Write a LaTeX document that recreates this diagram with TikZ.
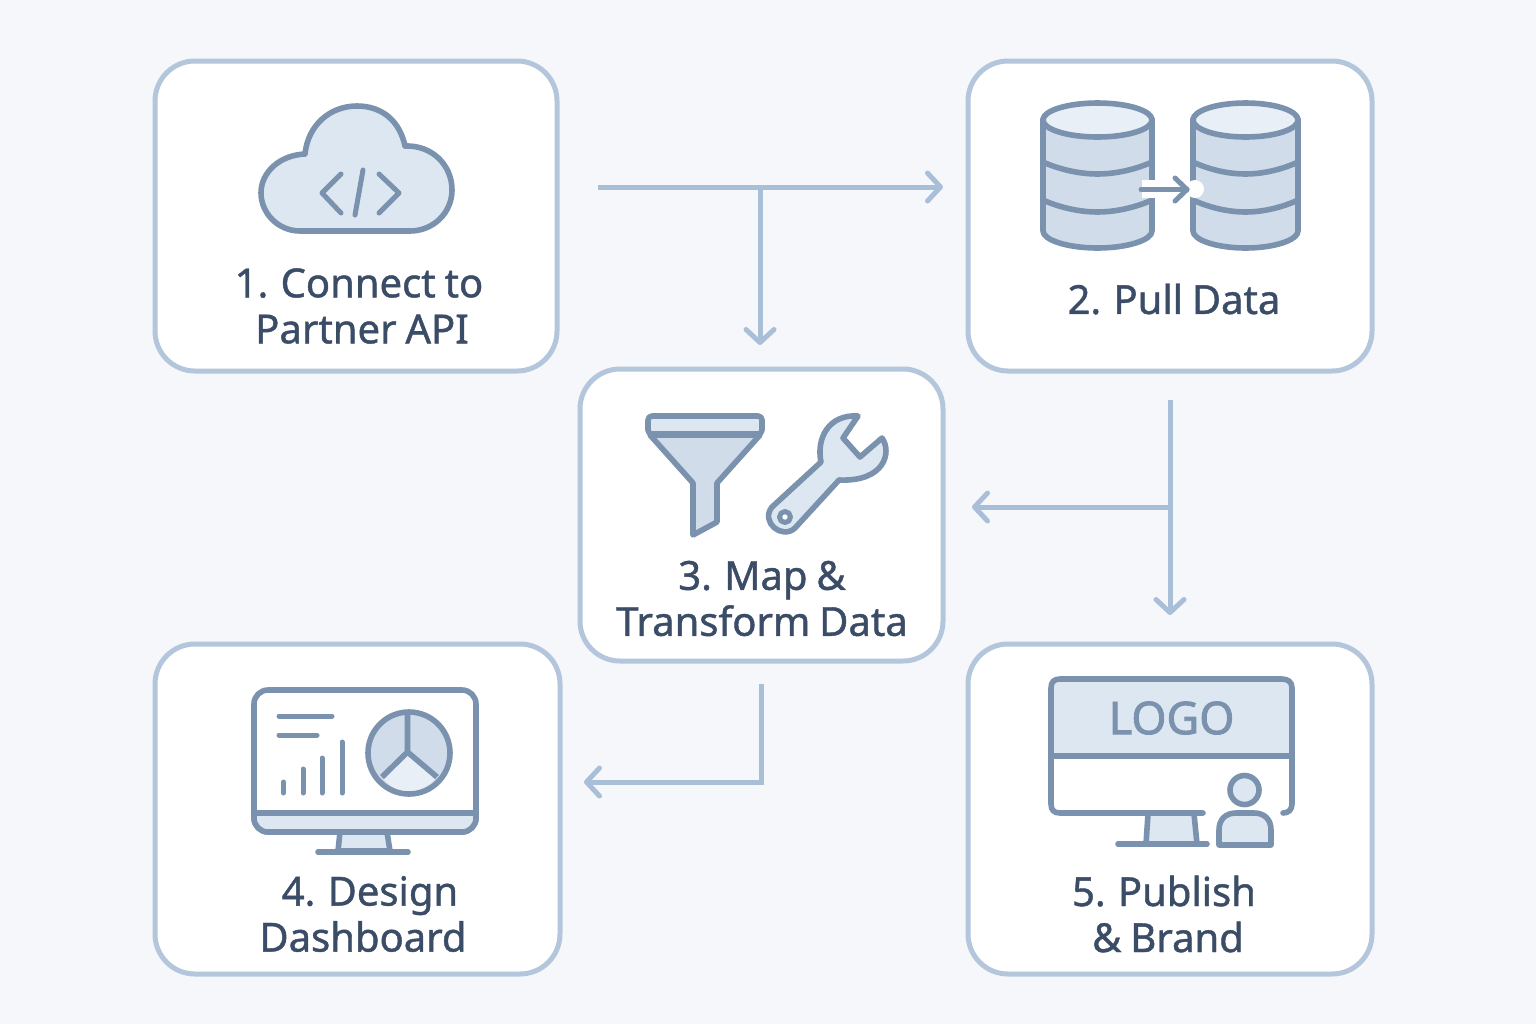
\documentclass[tikz,border=0pt]{standalone}
\usepackage{fontspec}
\setmainfont{Noto Sans}[FakeBold=1.1,WordSpace=0.85]
\newfontfamily\logofont{Noto Sans}[FakeBold=2]
\usetikzlibrary{arrows.meta}
\definecolor{bgc}{HTML}{F5F7FB}
\definecolor{edgec}{HTML}{B3C6DB}
\definecolor{linkc}{HTML}{A9BFD8}
\definecolor{inkc}{HTML}{7A92AE}
\definecolor{txtc}{HTML}{3B4C66}
\definecolor{fillc}{HTML}{DDE7F1}
\definecolor{fillb}{HTML}{D0DCE9}
\definecolor{filla}{HTML}{E8EFF6}
\tikzset{
  x=0.5pt,y=-0.5pt,
  card/.style={draw=edgec,line width=2.5pt,fill=white,rounded corners=20pt,inner sep=0pt},
  lbl/.style={text=txtc,font=\fontsize{20}{23}\selectfont,align=center,inner sep=0pt},
  ico/.style={draw=inkc,line width=2.8pt,line join=round,line cap=round},
  icothin/.style={draw=inkc,line width=2.5pt,line join=round,line cap=round},
  link/.style={draw=linkc,line width=2.5pt},
  tip/.style={-{Straight Barb[round,length=6.5pt,width=14pt,line width=2.5pt]}},
}
\begin{document}
\begin{tikzpicture}
\useasboundingbox[fill=bgc] (0,0) rectangle (1536,1024);
% cards
\node[card,minimum width=201pt,minimum height=155pt] (c1) at (356,216) {};
\node[card,minimum width=202pt,minimum height=155pt] (c2) at (1170,216) {};
\node[card,minimum width=181.5pt,minimum height=146pt] (c3) at (761.5,515) {};
\node[card,minimum width=202.5pt,minimum height=165pt] (c4) at (357.5,809) {};
\node[card,minimum width=202pt,minimum height=165pt] (c5) at (1170,809) {};
% labels
\node[lbl] (t1) at (359,306) {1. Connect to\\\hspace*{3pt}Partner API};
\node[lbl] (t2) at (1174,299) {2. Pull Data};
\node[lbl] (t3) at (762,598.5) {3. Map \&\\Transform Data};
\node[lbl] (t4) at (363,914) {\hspace*{7pt}4. Design\\Dashboard};
\node[lbl] (t5) at (1164,914) {5. Publish\\\hspace*{4pt}\& Brand};
% connectors
\coordinate (a0) at (598,187);
\coordinate (a1) at (943,187);
\coordinate (aj) at (760,187);
\coordinate (a2) at (760,345);
\draw[link,tip] (a0) -- (a1);
\draw[link,tip] (aj) -- (a2);
\coordinate (b0) at (1170,400);
\coordinate (b1) at (1170,615);
\coordinate (bj) at (1170,507);
\coordinate (b2) at (972,507);
\draw[link,tip] (b0) -- (b1);
\draw[link,tip] (bj) -- (b2);
\coordinate (d0) at (761,684);
\coordinate (dj) at (761,782);
\coordinate (d1) at (584,782);
\draw[link,tip] (d0) -- (dj) -- (d1);
% icon 1: cloud
\draw[ico,fill=fillc] (305,154) .. controls (308,125) and (330,106) .. (357,106)
  .. controls (383,106) and (400,122) .. (405,146)
  .. controls (432,145) and (452,165) .. (452,190)
  .. controls (452,213) and (433,231) .. (410,231) -- (300,231)
  .. controls (278,231) and (261,213) .. (261,193)
  .. controls (261,172) and (280,155) .. (305,154) -- cycle;
\draw[icothin] (341,174) -- (322,193) -- (341,213);
\draw[icothin] (363,170) -- (355,215);
\draw[icothin] (379,174) -- (399,193) -- (379,213);
% icon 2: databases
\foreach \cx/\rx in {1097.5/54.5,1245.5/52.5}{
  \draw[ico,fill=fillb] (\cx-\rx,119) -- (\cx-\rx,231) .. controls (\cx-\rx,240) and (\cx-.55*\rx,248) .. (\cx,248)
     .. controls (\cx+.55*\rx,248) and (\cx+\rx,240) .. (\cx+\rx,231) -- (\cx+\rx,119);
  \draw[ico] (\cx-\rx,162) .. controls (\cx-\rx,162) and (\cx-.55*\rx,174) .. (\cx,174) .. controls (\cx+.55*\rx,174) and (\cx+\rx,162) .. (\cx+\rx,162);
  \draw[ico] (\cx-\rx,200) .. controls (\cx-\rx,200) and (\cx-.55*\rx,212) .. (\cx,212) .. controls (\cx+.55*\rx,212) and (\cx+\rx,200) .. (\cx+\rx,200);
  \draw[ico,fill=filla] (\cx,120) ellipse [x radius=\rx,y radius=17];
}
\fill[white] (1142,180) rectangle (1158,198);
\fill[white] (1195,189) circle [radius=9];
\draw[icothin] (1141,189.5) -- (1187,189.5);
\draw[icothin] (1175,178) -- (1187,189.5) -- (1175,201);
% icon 3: funnel and wrench
\draw[ico,fill=fillb] (650,435) -- (693,483) -- (693,535) -- (717,522) -- (717,483) -- (760,435) -- cycle;
\draw[ico,fill=fillc,rounded corners=2pt] (648,416) rectangle (762,434);
\draw[ico,fill=fillc] (772,507) -- (821,462) .. controls (816,438) and (829,414) .. (858,416)
  -- (843,438) -- (860,457) -- (882,438) .. controls (892,452) and (885,482) .. (839,480)
  -- (795,528) .. controls (782,540) and (760,522) .. (772,507) -- cycle;
\draw[icothin,fill=white] (785,517) circle [radius=5.5];
% icon 4: dashboard monitor
\draw[ico,fill=fillc] (340,832) -- (338,851) -- (390,851) -- (387,832);
\draw[ico] (318,852) -- (408,852);
\draw[ico,fill=white,rounded corners=7pt] (254,690) rectangle (476,832);
\draw[ico,fill=fillc,rounded corners=7pt] (254,813) -- (254,832) -- (476,832) -- (476,813);
\draw[ico] (254,813) -- (476,813);
\draw[icothin] (279,716) -- (332,716);
\draw[icothin] (279,735) -- (317,735);
\draw[icothin] (283.5,782) -- (283.5,793);
\draw[icothin] (303,769) -- (303,793);
\draw[icothin] (322,758) -- (322,793);
\draw[icothin] (342,742) -- (342,793);
\fill[fillb] (409,753) circle [radius=41];
\fill[filla] (408,752) -- (382,777) .. controls (398,797) and (420,797) .. (437,777) -- cycle;
\draw[ico] (409,753) circle [radius=41];
\draw[ico,line cap=butt] (407.5,712) -- (407.5,752) -- (382,777);
\draw[ico,line cap=butt] (407.5,752) -- (437,777);
% icon 5: branded monitor
\fill[fillc] (1051,680) rectangle (1291,756);
\draw[ico,fill=fillc] (1148,814) -- (1146,844) -- (1197,844) -- (1194,814);
\draw[ico] (1118,844) -- (1207,844);
\draw[ico] (1203,813) -- (1060,813) .. controls (1054,813) and (1051,810) .. (1051,804) -- (1051,688)
  .. controls (1051,682) and (1054,679) .. (1060,679) -- (1282,679)
  .. controls (1288,679) and (1292,682) .. (1292,688) -- (1292,804)
  .. controls (1292,810) and (1288,813) .. (1283,813);
\draw[ico] (1051,756) -- (1292,756);
\node[text=inkc,font=\logofont\fontsize{22.5}{24}\selectfont,inner sep=0pt] (lg) at (1171.5,718) {LOGO};
\draw[ico,fill=fillc] (1244.5,790) circle [radius=14.5];
\draw[ico,fill=fillc] (1219,845) -- (1219,830) .. controls (1219,819) and (1226,813) .. (1236,813) -- (1254,813)
  .. controls (1264,813) and (1271,819) .. (1271,830) -- (1271,845) -- cycle;
\end{tikzpicture}
\end{document}
